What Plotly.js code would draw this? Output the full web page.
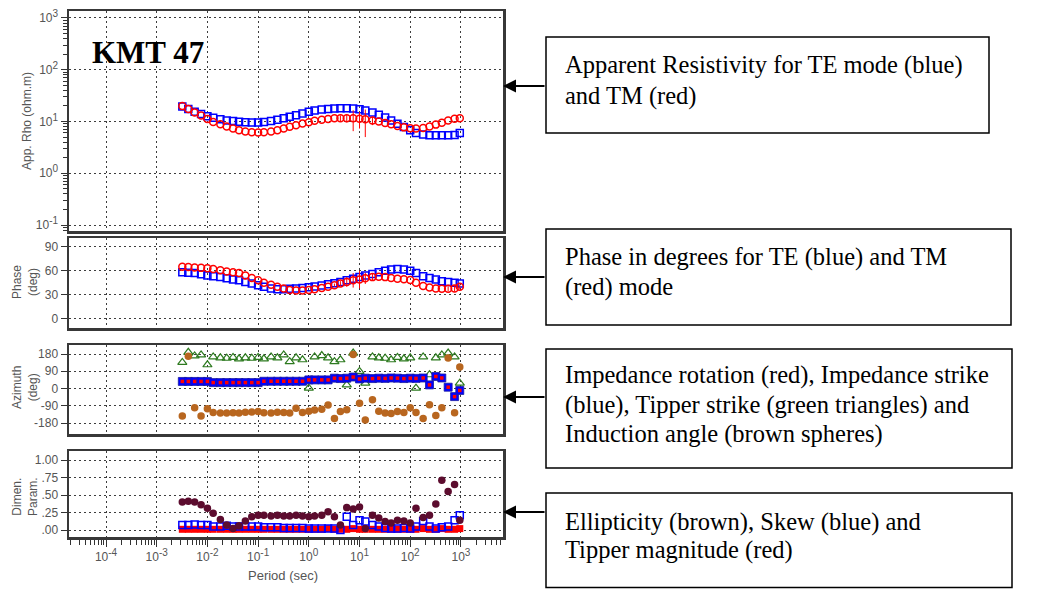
<!DOCTYPE html>
<html><head><meta charset="utf-8">
<script src="https://cdn.plot.ly/plotly-3.0.1.min.js"></script>
<style>html,body{margin:0;padding:0;background:#fff;} #chart{width:1058px;height:589px;}</style>
</head><body><div id="chart"></div>
<script>
// ---------- DATA ----------
const periods = [0.0032, 0.0042, 0.0056, 0.0075, 0.010, 0.013, 0.018, 0.024, 0.032, 0.042,
  0.056, 0.075, 0.10, 0.13, 0.18, 0.24, 0.32, 0.42, 0.56, 0.75,
  1.0, 1.3, 1.8, 2.4, 3.2, 4.2, 5.6, 7.5, 10, 13,
  18, 24, 32, 42, 56, 75, 100, 130, 180, 240,
  320, 420, 560, 750, 950];

// Apparent resistivity (ohm.m)
const rhoTE = [19.5, 17.5, 15.5, 14.0, 12.6, 11.8, 11.0, 10.5, 10.2, 9.9,
  9.7, 9.6, 9.6, 9.8, 10.2, 10.8, 11.5, 12.3, 13.2, 14.2,
  15.5, 16.3, 17.0, 17.5, 17.8, 18.0, 18.0, 17.8, 17.3, 16.3,
  15.0, 13.5, 12.0, 10.5, 9.0, 7.8, 6.8, 6.0, 5.6, 5.4,
  5.4, 5.4, 5.4, 5.5, 6.0];
const rhoTM = [20, 17.5, 15, 13, 11.2, 9.8, 8.8, 8.0, 7.3, 6.8,
  6.4, 6.2, 6.1, 6.2, 6.4, 6.8, 7.3, 7.9, 8.5, 9.1,
  9.7, 10.3, 10.8, 11.2, 11.5, 11.6, 11.6, 11.5, 11.3, 11.0,
  10.5, 10.0, 9.4, 8.8, 8.2, 7.7, 7.4, 7.3, 7.5, 8.0,
  8.7, 9.5, 10.5, 11.3, 11.5];
const rhoTMerr = [0, 0, 0, 0, 0, 0, 0, 0, 0, 0,
  0, 0, 0, 0, 0, 0, 0, 0, 0, 0,
  0, 0, 0, 0, 0, 1.5, 2, 5, 4, 6,
  2, 0, 0, 0, 0, 0, 0, 0, 0, 0,
  0, 0, 0, 0, 0];

// Phase (deg)
const phaseTE = [58, 57.5, 57, 55.5, 54, 53, 52, 50.5, 49, 48,
  46, 44, 42, 40, 38, 37, 37, 37.5, 38, 38.5,
  39.5, 40.5, 41.5, 43, 44.5, 46, 48, 50, 52, 54,
  56, 58, 60, 61.5, 62, 61.5, 60, 57, 53, 51,
  49, 47, 46, 45, 44];
const phaseTM = [65, 64.5, 64, 63.5, 63, 62, 60.5, 59, 58, 57,
  54, 51, 48, 45, 42.5, 40, 38, 36, 35.5, 35.5,
  36, 37, 38.5, 40, 42, 44, 46, 48, 49, 50.5,
  52, 52.5, 52, 51, 50, 49.5, 48.5, 45, 41, 39,
  38, 37.5, 37.5, 38, 40];
const phaseTMerr = [0, 0, 0, 0, 0, 0, 0, 0, 0, 0,
  0, 0, 0, 0, 0, 0, 0, 0, 0, 0,
  0, 0, 0, 0, 2, 3, 6, 9, 11, 7,
  4, 0, 0, 0, 0, 0, 0, 0, 0, 0,
  0, 0, 3, 4, 3];

// Azimuth (deg)
const impStrike = [37, 37, 37, 37, 37, 31, 31, 31, 31, 31,
  31, 31, 31, 38, 38, 38, 38, 38, 38, 38,
  45, 45, 45, 45, 54, 52, 54, 60, 50, 54,
  52, 54, 53, 55, 54, 52, 54, 53, 55, 19,
  63, 55, 7, -42, -10];
const impRotation = [37, 37, 37, 37, 37, 31, 31, 31, 31, 31,
  31, 31, 31, 38, 38, 38, 38, 38, 38, 38,
  45, 45, 45, 45, 54, 52, 54, 60, 50, 54,
  52, 54, 53, 55, 54, 52, 54, 53, 55, 19,
  63, 55, 7, -42, -10];
const tipperStrike = [136, 189, 170, 175, 124, 165, 160, 158, 162, 155,
  160, 158, 162, 155, 165, 160, 175, 140, 160, 150,
  2, 165, 172, 160, 140, 150, 19, 185, 89, 28,
  165, 160, 158, 150, 162, 155, 160, 2, 165, 72,
  160, 175, 185, 165, 28];
const inductionAngle = [-143, 168, -100, -143, -105, -125, -127, -128, -126, -127,
  -124, -122, -120, -126, -128, -124, -125, -128, -103, -125,
  -118, -112, -108, -86, -156, -120, -110, 177, -77, -164,
  -59, -118, -128, -130, -120, -125, -100, -125, -156, -85,
  -140, -100, 159, -126, 112];

// Dimensionality parameters
const ellipticity = [0.40, 0.41, 0.40, 0.36, 0.31, 0.24, 0.15, 0.07, 0.02, 0.06,
  0.13, 0.19, 0.21, 0.21, 0.20, 0.21, 0.20, 0.20, 0.21, 0.20,
  0.19, 0.20, 0.21, 0.26, 0.19, 0.07, 0.32, 0.30, 0.33, 0.02,
  0.21, 0.17, 0.12, 0.10, 0.14, 0.13, 0.10, 0.31, 0.18, 0.21,
  0.37, 0.71, 0.55, 0.65, 0.14];
const skew = [0.07, 0.07, 0.08, 0.07, 0.07, 0.05, 0.05, 0.06, 0.05, 0.05,
  0.05, 0.05, 0.05, 0.04, 0.04, 0.04, 0.03, 0.03, 0.03, 0.03,
  0.02, 0.02, 0.02, 0.02, 0.02, 0.00, 0.19, 0.07, 0.14, 0.12,
  0.07, 0.05, 0.03, 0.02, 0.02, 0.03, 0.02, 0.05, 0.13, 0.05,
  0.02, 0.04, 0.05, 0.14, 0.21];
const tipperMag = [0.01, 0.01, 0.01, 0.01, 0.01, 0.01, 0.01, 0.01, 0.01, 0.01,
  0.01, 0.01, 0.01, 0.01, 0.01, 0.01, 0.01, 0.01, 0.01, 0.01,
  0.01, 0.01, 0.01, 0.02, 0.01, 0.01, 0.01, 0.02, 0.01, 0.01,
  0.01, 0.01, 0.01, 0.01, 0.01, 0.01, 0.01, 0.01, 0.02, 0.01,
  0.01, 0.02, 0.01, 0.01, 0.02];

// Tick labels
const sup = e => '10<sup><span style="font-size:10px">' + e + '</span></sup>';
const xTickVals = [1e-4, 1e-3, 1e-2, 1e-1, 1, 10, 100, 1000];
const xTickText = [sup('-4'), sup('-3'), sup('-2'), sup('-1'), sup('0'), sup('1'), sup('2'), sup('3')];
const rhoTickVals = [0.1, 1, 10, 100, 1000];
const rhoTickText = [sup('-1'), sup('0'), sup('1'), sup('2'), sup('3')];
const phaseTickVals = [0, 30, 60, 90];
const phaseTickText = ['0', '30', '60', '90'];
const aziTickVals = [-180, -90, 0, 90, 180];
const aziTickText = ['-180', '-90', '0', '90', '180'];
const dimTickVals = [0, 0.25, 0.5, 0.75, 1.0];
const dimTickText = ['.00', '.25', '.50', '.75', '1.00'];

const stationName = 'KMT 47';
const panelTitles = ['App. Rho (ohm.m)', 'Phase<br>(deg)', 'Azimuth<br>(deg)', 'Dimen.<br>Param.'];
const xTitle = 'Period (sec)';
const notes = [
  ['Apparent Resistivity for TE mode (blue)', 'and TM (red)'],
  ['Phase in degrees for TE (blue) and TM', '(red) mode'],
  ['Impedance rotation (red), Impedance strike', '(blue), Tipper strike (green triangles) and', 'Induction angle (brown spheres)'],
  ['Ellipticity (brown), Skew (blue) and', 'Tipper magnitude (red)']
];

// ---------- LAYOUT HELPERS ----------
const W = 1058, H = 589;
const PX = v => v / W;
const PY = v => 1 - v / H;
const FRAME = '#383838';
const GRID = '#3c3c3c';
const DOTS = '2px,3px';
const SANS = 'Liberation Sans, Arial, sans-serif';
const SERIF = 'Liberation Serif, Times New Roman, serif';
const TICKFONT = {family: SANS, size: 12, color: '#555'};
const BLUE = '#0000ff', RED = '#ff0000', GREEN = '#2d7a1f', BROWN = '#b8661f', MAROON = '#5c0c2e';

function minorLogVals(lo, hi) {
  const out = [];
  for (let k = lo; k <= hi; k++) for (let m = 2; m <= 9; m++) out.push(m * Math.pow(10, k));
  return out;
}

const panels = [ // pixel top/bottom of plot areas
  {top: 11, bottom: 231},
  {top: 238, bottom: 328},
  {top: 345, bottom: 434},
  {top: 451, bottom: 537}
];
const xDomain = [PX(69), PX(503)];
const xRange = [-4.73, 3.83];

function xAxis(i) {
  const bottom = i === 4;
  const a = {
    type: 'log', range: xRange, domain: xDomain, anchor: i === 1 ? 'y' : 'y' + i,
    showline: true, mirror: true, linecolor: FRAME, linewidth: 2.5,
    showgrid: true, gridcolor: GRID, griddash: DOTS, gridwidth: 1,
    tickmode: 'array', tickvals: xTickVals, ticktext: xTickText,
    showticklabels: bottom, ticks: bottom ? 'outside' : '', ticklen: 7,
    tickcolor: '#333', tickwidth: 1, tickfont: TICKFONT, zeroline: false
  };
  if (bottom) a.minor = {ticks: 'outside', ticklen: 5, tickcolor: '#333', tickwidth: 1,
    tickmode: 'array', tickvals: minorLogVals(-5, 3), showgrid: false};
  return a;
}
function yAxis(i, extra) {
  const p = panels[i - 1];
  return Object.assign({
    domain: [PY(p.bottom), PY(p.top)], anchor: i === 1 ? 'x' : 'x' + i,
    showline: true, mirror: true, linecolor: FRAME, linewidth: 2.5,
    showgrid: true, gridcolor: GRID, griddash: DOTS, gridwidth: 1,
    tickmode: 'array', ticks: 'outside', ticklen: 6, tickcolor: '#333', tickwidth: 1,
    tickfont: TICKFONT, zeroline: false
  }, extra);
}

// ---------- TRACES ----------
const traces = [
  {x: periods, y: rhoTE, xaxis: 'x', yaxis: 'y', mode: 'markers', type: 'scatter',
   marker: {symbol: 'square-open', size: 7, color: BLUE, line: {width: 1.5}}},
  {x: periods, y: rhoTM, xaxis: 'x', yaxis: 'y', mode: 'markers', type: 'scatter',
   marker: {symbol: 'circle-open', size: 7, color: RED, line: {width: 1.5}},
   error_y: {type: 'data', array: rhoTMerr, color: RED, thickness: 1, width: 0}},

  {x: periods, y: phaseTE, xaxis: 'x2', yaxis: 'y2', mode: 'markers', type: 'scatter',
   marker: {symbol: 'square-open', size: 7, color: BLUE, line: {width: 1.5}}},
  {x: periods, y: phaseTM, xaxis: 'x2', yaxis: 'y2', mode: 'markers', type: 'scatter',
   marker: {symbol: 'circle-open', size: 7, color: RED, line: {width: 1.5}},
   error_y: {type: 'data', array: phaseTMerr, color: RED, thickness: 1, width: 0}},

  {x: periods, y: tipperStrike, xaxis: 'x3', yaxis: 'y3', mode: 'markers', type: 'scatter',
   marker: {symbol: 'triangle-up-open', size: 8, color: GREEN, line: {width: 1.2}}},
  {x: periods, y: inductionAngle, xaxis: 'x3', yaxis: 'y3', mode: 'markers', type: 'scatter',
   marker: {symbol: 'circle', size: 7.5, color: BROWN}},
  {x: periods, y: impStrike, xaxis: 'x3', yaxis: 'y3', mode: 'markers', type: 'scatter',
   marker: {symbol: 'square', size: 8, color: BLUE, line: {width: 0.8, color: '#1a1aa0'}}},
  {x: periods, y: impRotation, xaxis: 'x3', yaxis: 'y3', mode: 'markers', type: 'scatter',
   marker: {symbol: 'square', size: 3.5, color: RED}},

  {x: periods, y: tipperMag, xaxis: 'x4', yaxis: 'y4', mode: 'markers', type: 'scatter',
   marker: {symbol: 'square', size: 7, color: RED}},
  {x: periods, y: skew, xaxis: 'x4', yaxis: 'y4', mode: 'markers', type: 'scatter',
   marker: {symbol: 'square-open', size: 7, color: BLUE, line: {width: 1.5}}},
  {x: periods, y: ellipticity, xaxis: 'x4', yaxis: 'y4', mode: 'markers', type: 'scatter',
   marker: {symbol: 'circle', size: 7.5, color: MAROON}}
];

// ---------- ANNOTATIONS & SHAPES ----------
const annotations = [];
const shapes = [];

annotations.push({text: '<b>' + stationName + '</b>', xref: 'paper', yref: 'paper',
  x: PX(90), y: PY(53), xanchor: 'left', yanchor: 'middle', showarrow: false,
  font: {family: SERIF, size: 31, color: '#000'}});

const titleCenters = [[27, 121], [25, 282], [25, 388], [25, 497]];
panelTitles.forEach((t, i) => annotations.push({
  text: t, xref: 'paper', yref: 'paper', x: PX(titleCenters[i][0]), y: PY(titleCenters[i][1]),
  xanchor: 'center', yanchor: 'middle', textangle: -90, showarrow: false,
  font: {family: SANS, size: 12, color: '#555'}}));

annotations.push({text: xTitle, xref: 'paper', yref: 'paper', x: PX(283), y: PY(575),
  xanchor: 'center', yanchor: 'middle', showarrow: false,
  font: {family: SANS, size: 13, color: '#555'}});

const boxes = [
  {x0: 546, x1: 989, y0: 37, y1: 133, arrowY: 86, lines: [65, 96]},
  {x0: 546, x1: 1011, y0: 229, y1: 325, arrowY: 277, lines: [257, 287]},
  {x0: 546, x1: 1012, y0: 349, y1: 468, arrowY: 397, lines: [375, 405, 434]},
  {x0: 546, x1: 1012, y0: 493, y1: 587.5, arrowY: 512, lines: [522, 550]}
];
boxes.forEach((b, i) => {
  shapes.push({type: 'rect', xref: 'paper', yref: 'paper', x0: PX(b.x0), x1: PX(b.x1),
    y0: PY(b.y1), y1: PY(b.y0), line: {color: '#000', width: 1.5}, fillcolor: 'rgba(0,0,0,0)'});
  annotations.push({text: '', xref: 'paper', yref: 'paper', x: PX(503), y: PY(b.arrowY),
    ax: b.x0 - 503, ay: 0, axref: 'pixel', ayref: 'pixel', showarrow: true,
    arrowhead: 2, arrowsize: 1.3, arrowwidth: 2, arrowcolor: '#000'});
  notes[i].forEach((ln, j) => annotations.push({text: ln, xref: 'paper', yref: 'paper',
    x: PX(563), y: PY(b.lines[j]), xanchor: 'left', yanchor: 'middle', showarrow: false,
    font: {family: SERIF, size: 24.5, color: '#000'}}));
});

const layout = {
  width: W, height: H, autosize: false, showlegend: false,
  margin: {l: 0, r: 0, t: 0, b: 0, pad: 0},
  paper_bgcolor: '#fff', plot_bgcolor: '#fff',
  xaxis: xAxis(1), xaxis2: xAxis(2), xaxis3: xAxis(3), xaxis4: xAxis(4),
  yaxis: yAxis(1, {type: 'log', range: [-1.116, 3.135], tickvals: rhoTickVals, ticktext: rhoTickText,
    minor: {ticks: 'outside', ticklen: 4, tickcolor: '#333', tickwidth: 1, tickmode: 'array',
      tickvals: minorLogVals(-2, 3), showgrid: false}}),
  yaxis2: yAxis(2, {range: [-11.2, 100.6], tickvals: phaseTickVals, ticktext: phaseTickText}),
  yaxis3: yAxis(3, {range: [-237, 227], tickvals: aziTickVals, ticktext: aziTickText}),
  yaxis4: yAxis(4, {range: [-0.1, 1.129], tickvals: dimTickVals, ticktext: dimTickText}),
  annotations, shapes
};

Plotly.newPlot('chart', traces, layout, {displayModeBar: false, staticPlot: true});
</script>
</body></html>
